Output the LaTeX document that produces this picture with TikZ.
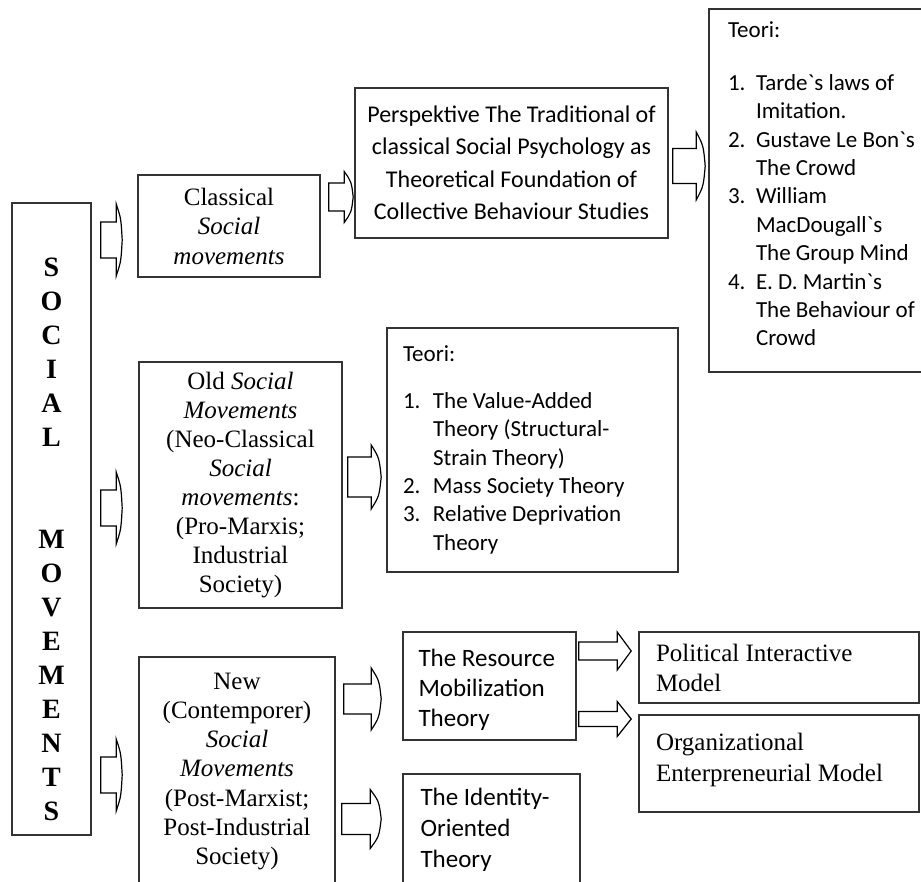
\documentclass[tikz,border=0pt]{standalone}
\usepackage{fontspec}
\setmainfont{Liberation Serif}
\newfontfamily\calfont[Ligatures=TeXOff]{Carlito}
\usetikzlibrary{calc}

\tikzset{
  box/.style={draw=black!80, line width=0.8pt, inner sep=0pt, align=center, font=\fontsize{12.5}{14.75}\selectfont},
  sansbox/.style={box, font=\calfont\fontsize{12}{16.25}\selectfont},
  listbox/.style={box, align=flush left, font=\calfont\fontsize{11.5}{14.2}\selectfont},
  leftbox/.style={box, align=flush left},
  fat/.style n args={3}{draw=black, line width=0.6pt, fill=white, to path={let \p1=(\tikztostart), \p2=(\tikztotarget) in
    (\x1,\y1+#1) -- (\x2-#3,\y1+#1) -- (\x2-#3,\y1+#2) -- (\x2,\y1) -- (\x2-#3,\y1-#2) -- (\x2-#3,\y1-#1) -- (\x1,\y1-#1) -- cycle}},
  bowfat/.style n args={3}{draw=black, line width=0.6pt, fill=white, to path={let \p1=(\tikztostart), \p2=(\tikztotarget) in
    (\x1,\y1+#1) -- (\x2-#3,\y1+#1) -- (\x2-#3,\y1+#2) .. controls (\x2-0.2*#3,\y1+0.6*#2) .. (\x2,\y1)
    .. controls (\x2-0.2*#3,\y1-0.6*#2) .. (\x2-#3,\y1-#2) -- (\x2-#3,\y1-#1) -- (\x1,\y1-#1) -- cycle}}
}
\newcommand{\nr}[1]{\makebox[14pt][l]{#1}}
\newcommand{\hang}{\hspace*{14pt}}

\begin{document}
\begin{tikzpicture}[x=0.5pt, y=-0.5pt]
\useasboundingbox (0,0) rectangle (921,882);
\clip (0,0) rectangle (921,882);

% left column
\node[box, minimum width=39.5pt, minimum height=316pt] (sm) at (51.5,519) {};
\node[align=center, inner sep=0pt, font=\fontsize{14}{17}\selectfont\bfseries] (smtxt) at (51.5,539)
  {S\\O\\C\\I\\A\\L\\[34pt]M\\O\\V\\E\\M\\E\\N\\T\\S};

% second column
\node[box, minimum width=91pt, minimum height=51pt] (cls) at (229,226)
  {Classical\\\textit{Social}\\\textit{movements}};
\node[box, font=\fontsize{12.5}{14.45}\selectfont, minimum width=101.5pt, minimum height=123pt] (old) at (240.5,485)
  {Old \textit{Social}\\\textit{Movements}\\(Neo-Classical\\\textit{Social}\\\textit{movements}:\\(Pro-Marxis;\\Industrial\\Society)};
\node[box, font=\fontsize{12.5}{14.6}\selectfont, minimum width=98pt, minimum height=114.5pt] (new) at (237,771.5)
  {New\\(Contemporer)\\\textit{Social}\\\textit{Movements}\\(Post-Marxist;\\Post-Industrial\\Society)};

% theories
\node[sansbox, minimum width=156.5pt, minimum height=75pt] (persp) at (511.5,163)
  {Perspektive The Traditional of\\classical Social Psychology as\\Theoretical Foundation of\\Collective Behaviour Studies};
\node[listbox, minimum width=130pt, minimum height=181.5pt, text width=111pt] (teo1) at (839,190.5)
  {Teori:\\[12.4pt]
   \nr{1.}Tarde`s laws of\\\hang Imitation.\\
   \nr{2.}Gustave Le Bon`s\\\hang The Crowd\\
   \nr{3.}William\\\hang MacDougall`s\\\hang The Group Mind\\
   \nr{4.}E. D. Martin`s\\\hang The Behaviour of\\\hang Crowd\rule[-7pt]{0pt}{7pt}};
\node[listbox, minimum width=145.5pt, minimum height=122pt, text width=129.5pt] (teo2) at (532.5,450)
  {Teori:\\[9pt]
   \makebox[15pt][l]{1.}The Value-Added\\\hspace*{15pt}Theory (Structural-\\\hspace*{15pt}Strain Theory)\\
   \makebox[15pt][l]{2.}Mass Society Theory\\
   \makebox[15pt][l]{3.}Relative Deprivation\\\hspace*{15pt}Theory};
\node[box, align=flush left, font=\calfont\fontsize{12.5}{15}\selectfont, minimum width=86.5pt, minimum height=54pt, text width=71pt] (res) at (489.5,686)
  {\rule{0pt}{13pt}The Resource\\Mobilization\\Theory};
\node[box, align=flush left, font=\calfont\fontsize{12.5}{15.5}\selectfont, minimum width=88.5pt, minimum height=56pt, text width=71pt] (ident) at (491.5,830)
  {The Identity-\\Oriented\\Theory};

% models
\node[leftbox, font=\fontsize{12.5}{15}\selectfont, minimum width=140pt, minimum height=35.5pt, text width=123pt] (pol) at (779,667.5)
  {Political Interactive\\Model};
\node[leftbox, font=\fontsize{12.5}{15.5}\selectfont, minimum width=140pt, minimum height=48.5pt, text width=123pt] (org) at (779,763.5)
  {Organizational\\Enterpreneurial Model\rule[-6pt]{0pt}{6pt}};

% block arrows
\draw[bowfat={9pt}{18pt}{3pt}] ([xshift=4.5pt]sm.east |- 0,240) to ([xshift=-7.5pt]cls.west);
\draw[bowfat={9pt}{18pt}{3pt}] ([xshift=4.5pt]sm.east |- 0,508) to ([xshift=-8pt]old.west);
\draw[bowfat={9pt}{18pt}{3pt}] ([xshift=4.5pt]sm.east |- 0,775) to ([xshift=-8pt]new.west);
\draw[bowfat={7pt}{12.75pt}{4.5pt}] ([xshift=4pt]cls.east |- 0,197) to ([xshift=-0.5pt]persp.west);
\draw[bowfat={8.75pt}{17pt}{4.5pt}] ([xshift=2pt]persp.east |- 0,166) to ([xshift=-1.5pt]teo1.west);
\draw[bowfat={10pt}{16pt}{5pt}] ([xshift=2.5pt]old.east |- 0,477) to ([xshift=-2.5pt]teo2.west);
\draw[bowfat={7.5pt}{15.5pt}{5pt}] ([xshift=4pt]new.east |- 0,699) to ([xshift=-10.5pt]res.west);
\draw[bowfat={7.75pt}{14.75pt}{5.5pt}] ([xshift=3pt]new.east |- 0,819) to ([xshift=-10.5pt]ident.west);
\draw[fat={4.5pt}{9.5pt}{7pt}] ([xshift=1pt]res.east |- 0,651) to ([xshift=-3.5pt]pol.west);
\draw[fat={3.75pt}{8.75pt}{7pt}] ([xshift=1pt]res.east |- 0,719) to ([xshift=-3.5pt]org.west);
\end{tikzpicture}
\end{document}
